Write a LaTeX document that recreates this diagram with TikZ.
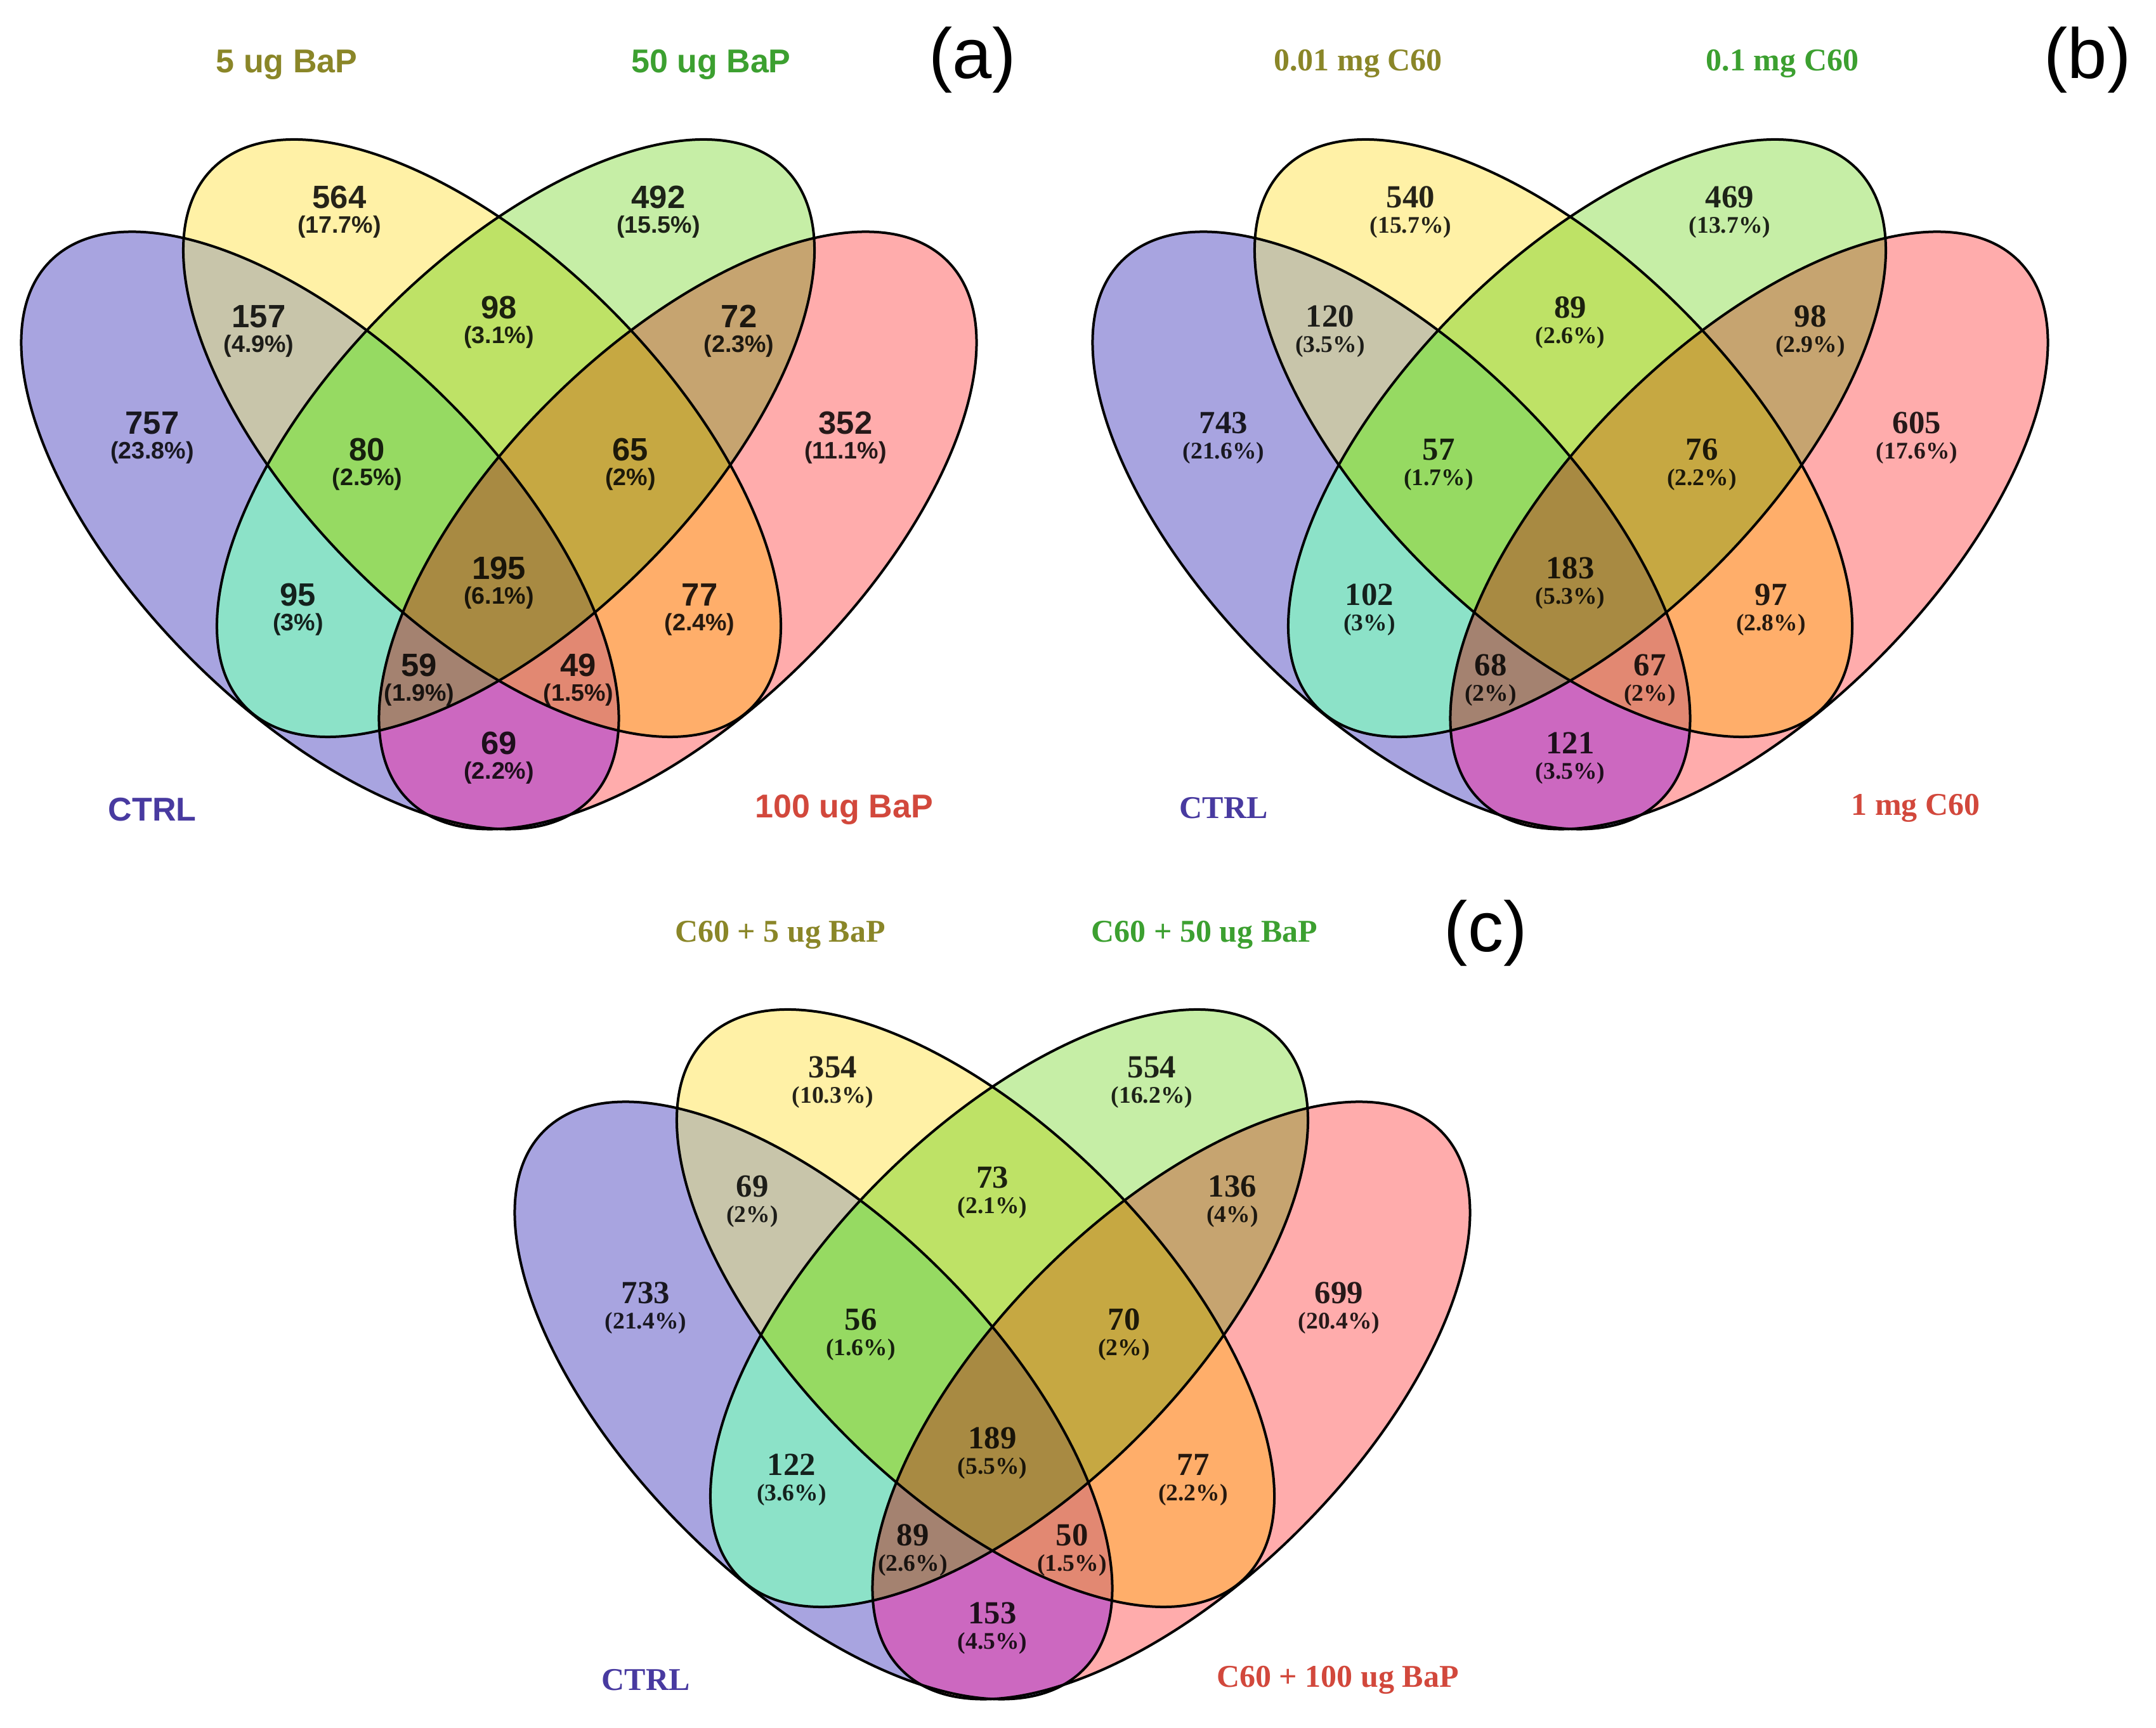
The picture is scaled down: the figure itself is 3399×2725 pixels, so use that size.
\documentclass[tikz,border=0pt]{standalone}
\usepackage{fontspec}
\setmainfont{Liberation Serif}
\newfontfamily\sansf{Liberation Sans}
\definecolor{cB}{RGB}{168,164,224}
\definecolor{cY}{RGB}{255,241,166}
\definecolor{cG}{RGB}{198,238,166}
\definecolor{cP}{RGB}{255,172,172}
\definecolor{cBY}{RGB}{200,197,170}
\definecolor{cBG}{RGB}{140,226,200}
\definecolor{cBP}{RGB}{204,104,192}
\definecolor{cYG}{RGB}{190,226,102}
\definecolor{cYP}{RGB}{255,174,106}
\definecolor{cGP}{RGB}{198,164,112}
\definecolor{cBYG}{RGB}{150,218,98}
\definecolor{cBYP}{RGB}{226,136,114}
\definecolor{cBGP}{RGB}{164,130,112}
\definecolor{cYGP}{RGB}{198,168,66}
\definecolor{cBYGP}{RGB}{168,138,66}
\definecolor{lY}{RGB}{138,134,40}
\definecolor{lG}{RGB}{60,160,48}
\definecolor{lB}{RGB}{72,58,160}
\definecolor{lP}{RGB}{210,72,60}
\tikzset{
  eB/.style={shift={(504.5,836.5)}, rotate=-45},
  eY/.style={shift={(760,691)}, rotate=-45},
  eG/.style={shift={(813,691)}, rotate=45},
  eP/.style={shift={(1068.5,836.5)}, rotate=45},
  vline/.style={draw=black, line width=1pt},
  numtxt/.style={inner sep=0pt, text=black, text opacity=0.85},
  pcttxt/.style={inner sep=0pt, text=black, text opacity=0.85},
  cattxt/.style={inner sep=0pt},
  paneltxt/.style={inner sep=0pt, font=\sansf\fontsize{28}{28}\selectfont},
}
\def\EL{(0,0) ellipse [x radius=601, y radius=287]}
\newcommand\vennshapes{%
  \fill[fill=cB, eB] \EL;
  \fill[fill=cY, eY] \EL;
  \fill[fill=cG, eG] \EL;
  \fill[fill=cP, eP] \EL;
  \begin{scope}\clip[eB] \EL; \fill[fill=cBY, eY] \EL; \end{scope}
  \begin{scope}\clip[eB] \EL; \fill[fill=cBG, eG] \EL; \end{scope}
  \begin{scope}\clip[eB] \EL; \fill[fill=cBP, eP] \EL; \end{scope}
  \begin{scope}\clip[eY] \EL; \fill[fill=cYG, eG] \EL; \end{scope}
  \begin{scope}\clip[eY] \EL; \fill[fill=cYP, eP] \EL; \end{scope}
  \begin{scope}\clip[eG] \EL; \fill[fill=cGP, eP] \EL; \end{scope}
  \begin{scope}\clip[eB] \EL; \clip[eY] \EL; \fill[fill=cBYG, eG] \EL; \end{scope}
  \begin{scope}\clip[eB] \EL; \clip[eY] \EL; \fill[fill=cBYP, eP] \EL; \end{scope}
  \begin{scope}\clip[eB] \EL; \clip[eG] \EL; \fill[fill=cBGP, eP] \EL; \end{scope}
  \begin{scope}\clip[eY] \EL; \clip[eG] \EL; \fill[fill=cYGP, eP] \EL; \end{scope}
  \begin{scope}\clip[eB] \EL; \clip[eY] \EL; \clip[eG] \EL; \fill[fill=cBYGP, eP] \EL; \end{scope}
  \draw[vline, eB] \EL;
  \draw[vline, eY] \EL;
  \draw[vline, eG] \EL;
  \draw[vline, eP] \EL;
}
% region label: name, x, y, number, percent
\newcommand\rg[5]{%
  \node[numtxt] (#1n) at (#2,#3-3) {#4};
  \node[pcttxt] (#1p) at (#2,#3+44) {#5};
}
% panel texts: prefix, then 15 number/percent pairs in fixed order
\newcommand\venntexts[9]{%
  \def\pfx{#1}%
  \rg{#1-Y}{535}{314}{#2}{#3}
  \rg{#1-G}{1038}{314}{#4}{#5}
  \rg{#1-BY}{408}{502}{#6}{#7}
  \rg{#1-YG}{786.5}{488}{#8}{#9}
  \venntextsB
}
\newcommand\venntextsB[8]{%
  \rg{\pfx-GP}{1165}{502}{#1}{#2}
  \rg{\pfx-B}{240}{670}{#3}{#4}
  \rg{\pfx-BYG}{579}{712}{#5}{#6}
  \rg{\pfx-YGP}{994}{712}{#7}{#8}
  \venntextsC
}
\newcommand\venntextsC[8]{%
  \rg{\pfx-P}{1333}{670}{#1}{#2}
  \rg{\pfx-all}{786.5}{899}{#3}{#4}
  \rg{\pfx-BG}{470}{941}{#5}{#6}
  \rg{\pfx-YP}{1103}{941}{#7}{#8}
  \venntextsD
}
\newcommand\venntextsD[6]{%
  \rg{\pfx-BGP}{661}{1052}{#1}{#2}
  \rg{\pfx-BYP}{912}{1052}{#3}{#4}
  \rg{\pfx-BP}{786.5}{1175}{#5}{#6}
}
\begin{document}
\begin{tikzpicture}[x=0.25pt, y=-0.25pt]
\fill[white] (0,0) rectangle (3399,2725);
\useasboundingbox (0,0) rectangle (3399,2725);

% ---------------- panel (a)
\begin{scope}[shift={(0,0)},
  numtxt/.append style={font=\sansf\bfseries\fontsize{12.7}{13}\selectfont},
  pcttxt/.append style={font=\sansf\bfseries\fontsize{9.4}{10}\selectfont},
  cattxt/.append style={font=\sansf\bfseries\fontsize{13}{13}\selectfont}]
  \vennshapes
  \venntexts{a}{564}{(17.7\%)}{492}{(15.5\%)}{157}{(4.9\%)}{98}{(3.1\%)}%
    {72}{(2.3\%)}{757}{(23.8\%)}{80}{(2.5\%)}{65}{(2\%)}%
    {352}{(11.1\%)}{195}{(6.1\%)}{95}{(3\%)}{77}{(2.4\%)}%
    {59}{(1.9\%)}{49}{(1.5\%)}{69}{(2.2\%)}
  \node[cattxt, text=lY] (a-labY) at (452,102) {5 ug BaP};
  \node[cattxt, text=lG] (a-labG) at (1121,102) {50 ug BaP};
  \node[cattxt, text=lB] (a-labB) at (240,1277) {CTRL};
  \node[cattxt, text=lP] (a-labP) at (1331,1277) {100 ug BaP};
  \node[paneltxt] (a-panel) at (1533,95) {(a)};
\end{scope}

% ---------------- panel (b)
\begin{scope}[shift={(1689,0)},
  numtxt/.append style={font=\bfseries\fontsize{12.7}{13}\selectfont},
  pcttxt/.append style={font=\bfseries\fontsize{9.4}{10}\selectfont},
  cattxt/.append style={font=\bfseries\fontsize{12.5}{13}\selectfont}]
  \vennshapes
  \venntexts{b}{540}{(15.7\%)}{469}{(13.7\%)}{120}{(3.5\%)}{89}{(2.6\%)}%
    {98}{(2.9\%)}{743}{(21.6\%)}{57}{(1.7\%)}{76}{(2.2\%)}%
    {605}{(17.6\%)}{183}{(5.3\%)}{102}{(3\%)}{97}{(2.8\%)}%
    {68}{(2\%)}{67}{(2\%)}{121}{(3.5\%)}
  \node[cattxt, text=lY] (b-labY) at (452,100) {0.01 mg C60};
  \node[cattxt, text=lG] (b-labG) at (1121,100) {0.1 mg C60};
  \node[cattxt, text=lB] (b-labB) at (240,1274) {CTRL};
  \node[cattxt, text=lP] (b-labP) at (1331,1274) {1 mg C60};
  \node[paneltxt] (b-panel) at (1602,95) {(b)};
\end{scope}

% ---------------- panel (c)
\begin{scope}[shift={(778,1372)},
  numtxt/.append style={font=\bfseries\fontsize{12.7}{13}\selectfont},
  pcttxt/.append style={font=\bfseries\fontsize{9.4}{10}\selectfont},
  cattxt/.append style={font=\bfseries\fontsize{12.5}{13}\selectfont}]
  \vennshapes
  \venntexts{c}{354}{(10.3\%)}{554}{(16.2\%)}{69}{(2\%)}{73}{(2.1\%)}%
    {136}{(4\%)}{733}{(21.4\%)}{56}{(1.6\%)}{70}{(2\%)}%
    {699}{(20.4\%)}{189}{(5.5\%)}{122}{(3.6\%)}{77}{(2.2\%)}%
    {89}{(2.6\%)}{50}{(1.5\%)}{153}{(4.5\%)}
  \node[cattxt, text=lY] (c-labY) at (452,102) {C60 + 5 ug BaP};
  \node[cattxt, text=lG] (c-labG) at (1121,102) {C60 + 50 ug BaP};
  \node[cattxt, text=lB] (c-labB) at (240,1277) {CTRL};
  \node[cattxt, text=lP] (c-labP) at (1331,1277) {C60 + 100 ug BaP};
  \node[paneltxt] (c-panel) at (1564,100) {(c)};
\end{scope}
\end{tikzpicture}
\end{document}
